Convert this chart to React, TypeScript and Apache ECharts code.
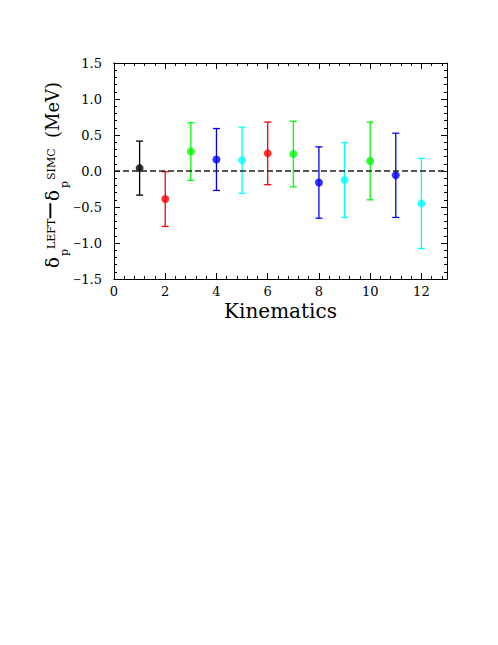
import React, { useEffect, useRef } from "react";
import * as echarts from "echarts";

const kinematics = [1, 2, 3, 4, 5, 6, 7, 8, 9, 10, 11, 12];
const deltaValues = [0.04, -0.39, 0.27, 0.16, 0.15, 0.245, 0.235, -0.16, -0.125, 0.14, -0.06, -0.45];
const deltaErrors = [0.375, 0.38, 0.4, 0.43, 0.46, 0.435, 0.455, 0.495, 0.52, 0.54, 0.585, 0.625];
const pointColors = [
  "#000000", "#ff0000", "#00ff00", "#0000ff", "#00ffff", "#ff0000",
  "#00ff00", "#0000ff", "#00ffff", "#00ff00", "#0000ff", "#00ffff",
];
const xTickLabels = [0, 2, 4, 6, 8, 10, 12];
const yTickLabels = [-1.5, -1.0, -0.5, 0.0, 0.5, 1.0, 1.5];

const FONT = "DejaVu Serif";

function fmtY(v: number) {
  const s = Math.abs(v).toFixed(1);
  return v < -1e-9 ? "{m|\u2212}" + s : s;
}

export default function App() {
  const ref = useRef<HTMLDivElement>(null);
  useEffect(() => {
    if (!ref.current) return;
    const chart = echarts.init(ref.current, null, { renderer: "svg" });

    const black = "#000";
    const baseX = {
      type: "value" as const,
      min: 0,
      max: 13,
      splitLine: { show: false },
      axisLine: { show: true, onZero: false, lineStyle: { color: black, width: 1 } },
    };
    const baseY = {
      type: "value" as const,
      min: -1.5,
      max: 1.5,
      interval: 0.5,
      splitLine: { show: false },
      axisLine: { show: true, onZero: false, lineStyle: { color: black, width: 1 } },
      axisTick: { show: true, inside: true, length: 6, lineStyle: { color: black } },
      minorTick: { show: true, splitNumber: 5, length: 3, lineStyle: { color: black } },
    };

    const errData = kinematics.map((k, i) => [
      k,
      deltaValues[i] - deltaErrors[i],
      deltaValues[i] + deltaErrors[i],
    ]);
    const ptData = kinematics.map((k, i) => [k, deltaValues[i]]);

    const txt = (text: string, x: number, y: number, fontSize: number) => ({
      type: "text",
      x,
      y,
      style: { text, fontSize, fontFamily: FONT, fill: black, align: "left", verticalAlign: "middle" },
    });

    const option: any = {
      animation: false,
      backgroundColor: "#fff",
      grid: { left: 114, right: 51, top: 63, bottom: 366, outerBoundsMode: "none" },
      xAxis: [
        {
          ...baseX,
          position: "bottom",
          interval: 2,
          axisTick: { show: true, inside: true, length: 6, lineStyle: { color: black } },
          axisLabel: {
            margin: 6,
            lineHeight: 12,
            fontFamily: FONT,
            fontSize: 13,
            color: black,
            formatter: (v: number) => (xTickLabels.indexOf(v) >= 0 ? String(v) : ""),
          },
          name: "Kinematics",
          nameLocation: "middle",
          nameGap: 23,
          nameTextStyle: { fontFamily: FONT, fontSize: 20, color: black, lineHeight: 18 },
        },
        {
          ...baseX,
          position: "bottom",
          interval: 0.4,
          axisTick: { show: true, inside: true, length: 3, lineStyle: { color: black } },
          axisLabel: { show: false },
        },
        {
          ...baseX,
          position: "top",
          interval: 2,
          axisTick: { show: true, inside: true, length: 6, lineStyle: { color: black } },
          axisLabel: { show: false },
        },
        {
          ...baseX,
          position: "top",
          interval: 0.4,
          axisTick: { show: true, inside: true, length: 3, lineStyle: { color: black } },
          axisLabel: { show: false },
        },
      ],
      yAxis: [
        {
          ...baseY,
          position: "left",
          axisLabel: {
            margin: 12,
            fontFamily: FONT,
            fontSize: 13,
            color: black,
            rich: { m: { fontFamily: FONT, fontSize: 10, color: black } },
            formatter: (v: number) =>
              yTickLabels.some((t) => Math.abs(t - v) < 1e-6) ? fmtY(v) : "",
          },
        },
        {
          ...baseY,
          position: "right",
          axisLabel: { show: false },
        },
      ],
      graphic: [
        {
          type: "group",
          x: 0,
          y: 268,
          rotation: Math.PI / 2,
          children: [
            txt("\u03b4", 0, 52, 18),
            txt("p", 12, 64, 11),
            txt("LEFT", 19, 51, 11),
            txt("\u2212", 47, 50, 24),
            txt("\u03b4", 67, 52, 18),
            txt("p", 80, 64, 11),
            txt("SIMC", 88, 51, 11),
            txt("(MeV)", 130, 52, 18),
          ],
        },
      ],
      series: [
        {
          type: "custom",
          xAxisIndex: 0,
          yAxisIndex: 0,
          encode: { x: 0, y: [1, 2] },
          data: errData,
          z: 2,
          renderItem: (params: any, api: any) => {
            const x = api.value(0);
            const lo = api.coord([x, api.value(1)]);
            const hi = api.coord([x, api.value(2)]);
            const hw = 3.5;
            const c = pointColors[params.dataIndex];
            const st = { stroke: c, lineWidth: 1.3 };
            return {
              type: "group",
              children: [
                { type: "line", shape: { x1: lo[0], y1: lo[1], x2: hi[0], y2: hi[1] }, style: st },
                { type: "line", shape: { x1: lo[0] - hw, y1: lo[1], x2: lo[0] + hw, y2: lo[1] }, style: st },
                { type: "line", shape: { x1: hi[0] - hw, y1: hi[1], x2: hi[0] + hw, y2: hi[1] }, style: st },
              ],
            };
          },
        },
        {
          type: "scatter",
          xAxisIndex: 0,
          yAxisIndex: 0,
          data: ptData,
          symbol: "circle",
          symbolSize: 8,
          z: 3,
          itemStyle: { color: (p: any) => pointColors[p.dataIndex] },
          markLine: {
            silent: true,
            symbol: "none",
            label: { show: false },
            lineStyle: { color: "#222", type: [6, 3], width: 1.5 },
            data: [{ yAxis: 0 }],
          },
        },
      ],
    };
    chart.setOption(option);
    return () => chart.dispose();
  }, []);

  return (
    <div
      ref={ref}
      style={{ position: "fixed", left: 0, top: 0, width: 498, height: 645, background: "#fff" }}
    />
  );
}
